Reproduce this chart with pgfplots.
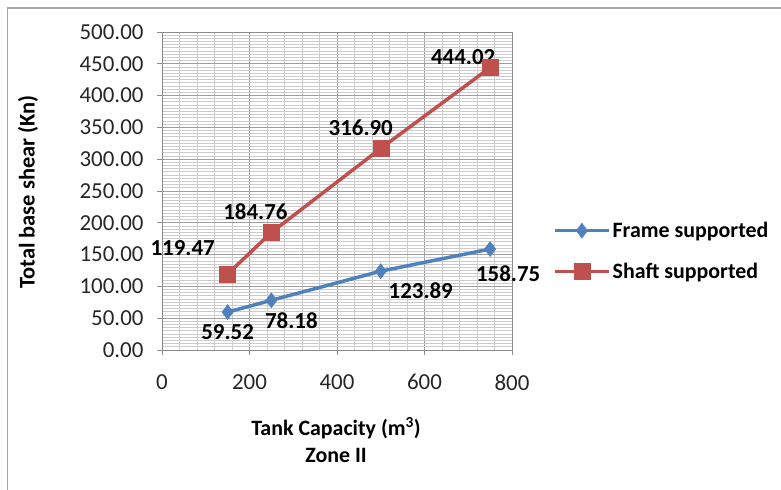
\documentclass[border=0pt]{standalone}
\usepackage{fontspec}
\setmainfont{Carlito}
\usepackage{pgfplots}
\pgfplotsset{compat=1.18}
\definecolor{fblue}{HTML}{4F81BD}
\definecolor{sred}{HTML}{C0504D}
\begin{document}
\begin{tikzpicture}[x=1bp,y=1bp]
\path[use as bounding box] (0,0) rectangle (781,490);
\draw[black!35, line width=1.5bp] (7.5,-2) -- (7.5,482) -- (790,482);
\begin{axis}[
  at={(162bp,140bp)}, anchor=south west,
  scale only axis, width=350bp, height=318bp,
  xmin=0, xmax=800, ymin=0, ymax=500,
  clip=false,
  xtick={0,200,...,800}, ytick={0,50,...,500},
  minor x tick num=4, minor y tick num=9,
  grid=both,
  major grid style={color=black!38, line width=0.9bp},
  minor grid style={color=black!20, line width=0.9bp},
  axis line style={black!45, line width=0.9bp},
  tick align=outside, major tick length=5bp, minor tick length=0bp,
  major tick style={black!45, line width=0.9bp},
  xtick pos=bottom, ytick pos=left,
  /pgf/number format/assume math mode=true,
  tick label style={font=\fontsize{23}{23}\selectfont, text=black!85},
  yticklabel style={/pgf/number format/fixed, /pgf/number format/fixed zerofill, /pgf/number format/precision=2, xshift=-10bp},
  xticklabel style={yshift=-16bp},
  legend style={at={(rel axis cs:1.117,0.311)}, anchor=west, draw=none, fill=none,
    font=\bfseries\fontsize{22}{22}\selectfont, row sep=20bp, inner sep=0pt,
    legend cell align=left},
  legend image code/.code={\draw[mark repeat=2,mark phase=2] plot coordinates {(0bp,0bp) (27bp,0bp) (54bp,0bp)};},
]
\addplot[fblue, line width=3.5bp, mark=diamond*, mark size=7.5bp, mark options={solid, fill=fblue, line width=0.5bp}]
  coordinates {(150,59.52) (250,78.18) (500,123.89) (750,158.75)};
\addlegendentry{Frame supported}
\addplot[sred, line width=3.5bp, mark=square*, mark size=8bp, mark options={solid, fill=sred, line width=0.5bp}]
  coordinates {(150,119.47) (250,184.76) (500,316.90) (750,444.02)};
\addlegendentry{Shaft supported}
\tikzset{dl/.style={font=\bfseries\fontsize{23}{23}\selectfont, text=black}}
\node[dl] at (axis cs:150,59.52) [xshift=0bp, yshift=-20bp] {59.52};
\node[dl] at (axis cs:250,78.18) [xshift=20bp, yshift=-20bp] {78.18};
\node[dl] at (axis cs:500,123.89) [xshift=40bp, yshift=-19bp] {123.89};
\node[dl] at (axis cs:750,158.75) [xshift=18bp, yshift=-25bp] {158.75};
\node[dl] at (axis cs:150,119.47) [xshift=-45bp, yshift=26bp] {119.47};
\node[dl] at (axis cs:250,184.76) [xshift=-16bp, yshift=21bp] {184.76};
\node[dl] at (axis cs:500,316.90) [xshift=-20bp, yshift=21bp] {316.90};
\node[dl] at (axis cs:750,444.02) [xshift=-27bp, yshift=11bp] {444.02};
\end{axis}
\node[rotate=90, font=\bfseries\fontsize{22.5}{22.5}\selectfont] at (28,298) {Total base shear (Kn)};
\node[font=\bfseries\fontsize{22}{22}\selectfont] at (336,62) {Tank Capacity (m\textsuperscript{3})};
\node[font=\bfseries\fontsize{22}{22}\selectfont] at (336,35) {Zone II};
\end{tikzpicture}
\end{document}
